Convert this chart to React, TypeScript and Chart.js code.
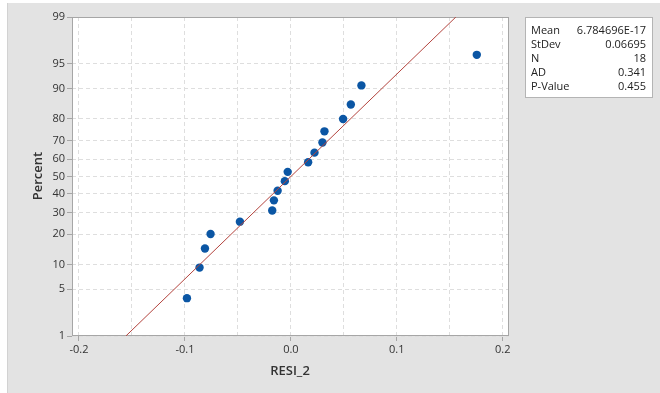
import React, { useEffect, useRef } from 'react';
import { Chart, registerables } from 'chart.js';

Chart.register(...registerables);

// Residuals (x) and their plotted percentiles (y)
const RESIDUALS = [
  -0.0981, -0.0862, -0.0811, -0.0758, -0.0481, -0.0176, -0.016, -0.0125, -0.0057,
  -0.003, 0.0163, 0.0223, 0.0298, 0.0317, 0.0493, 0.0566, 0.0666, 0.1755,
];
const PERCENTS = [
  3.8, 9.2, 14.7, 20.1, 25.5, 31.0, 36.4, 41.8, 47.3, 52.7, 58.2, 63.6, 69.0, 74.5,
  79.9, 85.3, 90.8, 96.2,
];

const Y_TICKS = [1, 5, 10, 20, 30, 40, 50, 60, 70, 80, 90, 95, 99];
const X_TICKS = [-0.2, -0.15, -0.1, -0.05, 0, 0.05, 0.1, 0.15, 0.2];
const X_LABELS = ['-0.2', '', '-0.1', '', '0.0', '', '0.1', '', '0.2'];
const X_MIN = -0.2066;
const X_MAX = 0.2059;

const MEAN = 6.784696e-17;
const STDEV = 0.06695;
const STAT_LABELS = ['Mean', 'StDev', 'N', 'AD', 'P-Value'];
const STAT_VALUES = ['6.784696E-17', '0.06695', '18', '0.341', '0.455'];

const X_TITLE = 'RESI_2';
const Y_TITLE = 'Percent';

const FONT = "'Open Sans', 'Noto Sans', sans-serif";

// inverse standard normal CDF (Acklam) – maps percent to the probability scale
function probit(p: number): number {
  const a = [-3.969683028665376e1, 2.209460984245205e2, -2.759285104469687e2, 1.38357751867269e2, -3.066479806614716e1, 2.506628277459239];
  const b = [-5.447609879822406e1, 1.615858368580409e2, -1.556989798598866e2, 6.680131188771972e1, -1.328068155288572e1];
  const c = [-7.784894002430293e-3, -3.223964580411365e-1, -2.400758277161838, -2.549732539343734, 4.374664141464968, 2.938163982698783];
  const d = [7.784695709041462e-3, 3.224671290700398e-1, 2.445134137142996, 3.754408661907416];
  const pl = 0.02425;
  let q: number, r: number;
  if (p < pl) {
    q = Math.sqrt(-2 * Math.log(p));
    return (((((c[0] * q + c[1]) * q + c[2]) * q + c[3]) * q + c[4]) * q + c[5]) /
      ((((d[0] * q + d[1]) * q + d[2]) * q + d[3]) * q + 1);
  }
  if (p <= 1 - pl) {
    q = p - 0.5;
    r = q * q;
    return (((((a[0] * r + a[1]) * r + a[2]) * r + a[3]) * r + a[4]) * r + a[5]) * q /
      (((((b[0] * r + b[1]) * r + b[2]) * r + b[3]) * r + b[4]) * r + 1);
  }
  q = Math.sqrt(-2 * Math.log(1 - p));
  return -(((((c[0] * q + c[1]) * q + c[2]) * q + c[3]) * q + c[4]) * q + c[5]) /
    ((((d[0] * q + d[1]) * q + d[2]) * q + d[3]) * q + 1);
}

const Y_MIN = probit(Y_TICKS[0] / 100);
const Y_MAX = probit(Y_TICKS[Y_TICKS.length - 1] / 100);

const decorPlugin = {
  id: 'decor',
  beforeDraw(chart: any) {
    const { ctx, width, height, chartArea } = chart;
    ctx.save();
    ctx.fillStyle = '#ffffff';
    ctx.fillRect(0, 0, width, height);
    ctx.fillStyle = '#e3e3e3';
    ctx.fillRect(7, 3, width - 7, height - 3);
    ctx.fillStyle = '#d2d2d2';
    ctx.fillRect(7, 3, 1, height - 3);
    ctx.fillStyle = '#ffffff';
    ctx.fillRect(chartArea.left, chartArea.top, chartArea.right - chartArea.left, chartArea.bottom - chartArea.top);
    ctx.restore();
  },
  beforeDatasetsDraw(chart: any) {
    const { ctx, chartArea } = chart;
    ctx.save();
    ctx.strokeStyle = '#a6a6a6';
    ctx.lineWidth = 1;
    ctx.strokeRect(chartArea.left + 0.5, chartArea.top + 0.5, chartArea.right - chartArea.left - 1, chartArea.bottom - chartArea.top - 1);
    ctx.restore();
  },
  afterDraw(chart: any) {
    const { ctx } = chart;
    ctx.save();
    // axis titles
    ctx.fillStyle = '#333333';
    ctx.font = `600 13px ${FONT}`;
    ctx.textAlign = 'center';
    ctx.textBaseline = 'middle';
    ctx.fillText(X_TITLE, 290, 371);
    ctx.translate(38, 176);
    ctx.rotate(-Math.PI / 2);
    ctx.fillText(Y_TITLE, 0, 0);
    ctx.restore();

    // stats box
    ctx.save();
    ctx.fillStyle = '#ffffff';
    ctx.fillRect(525, 17, 128, 81);
    ctx.strokeStyle = '#b4b4b4';
    ctx.lineWidth = 1;
    ctx.strokeRect(525.5, 17.5, 127, 80);
    ctx.fillStyle = '#222222';
    ctx.font = `11px ${FONT}`;
    ctx.textBaseline = 'middle';
    STAT_LABELS.forEach((lab, i) => {
      const y = 30.5 + i * 14;
      ctx.textAlign = 'left';
      ctx.fillText(lab, 531, y);
      ctx.textAlign = 'right';
      ctx.fillText(STAT_VALUES[i], 646, y);
    });
    ctx.restore();
  },
};

export default function App() {
  const ref = useRef<HTMLCanvasElement | null>(null);

  useEffect(() => {
    if (!ref.current) return;
    const zLo = probit(Y_TICKS[0] / 100);
    const zHi = probit(Y_TICKS[Y_TICKS.length - 1] / 100);
    const chart = new Chart(ref.current, {
      type: 'scatter',
      data: {
        datasets: [
          {
            type: 'line',
            data: [
              { x: MEAN + STDEV * zLo, y: zLo },
              { x: MEAN + STDEV * zHi, y: zHi },
            ],
            borderColor: '#b3443e',
            borderWidth: 1,
            pointRadius: 0,
            fill: false,
          } as any,
          {
            data: RESIDUALS.map((x, i) => ({ x, y: probit(PERCENTS[i] / 100) })),
            backgroundColor: '#0b56a4',
            borderColor: '#0b56a4',
            pointRadius: 4.2,
            pointBorderWidth: 0,
          },
        ],
      },
      options: {
        animation: false,
        responsive: false,
        maintainAspectRatio: false,
        layout: { padding: { left: 0, top: 17, right: 151, bottom: 0 } },
        plugins: { legend: { display: false }, tooltip: { enabled: false }, title: { display: false } },
        scales: {
          x: {
            type: 'linear',
            min: X_MIN,
            max: X_MAX,
            afterBuildTicks: (scale: any) => {
              scale.ticks = X_TICKS.map((v) => ({ value: v }));
            },
            afterFit: (scale: any) => {
              scale.height = 57;
            },
            ticks: {
              autoSkip: false,
              maxRotation: 0,
              padding: 2,
              color: '#333333',
              font: { family: FONT, size: 11 },
              callback: (_v: any, i: number) => X_LABELS[i],
            },
            grid: {
              color: '#dedede',
              lineWidth: 1,
              tickLength: 5,
              tickColor: (c: any) => (c.index % 2 === 0 ? '#a6a6a6' : 'rgba(0,0,0,0)'),
            },
            border: { display: false, dash: [4, 3] },
          },
          y: {
            type: 'linear',
            min: Y_MIN,
            max: Y_MAX,
            afterBuildTicks: (scale: any) => {
              scale.ticks = Y_TICKS.map((p) => ({ value: probit(p / 100) }));
            },
            afterFit: (scale: any) => {
              scale.width = 72;
            },
            ticks: {
              autoSkip: false,
              padding: 2,
              color: '#333333',
              font: { family: FONT, size: 11 },
              callback: (_v: any, i: number) => String(Y_TICKS[i]),
            },
            grid: {
              color: '#dedede',
              lineWidth: 1,
              tickLength: 5,
              tickColor: '#a6a6a6',
            },
            border: { display: false, dash: [4, 3] },
          },
        },
      },
      plugins: [decorPlugin],
    });
    return () => chart.destroy();
  }, []);

  return (
    <div style={{ position: 'fixed', left: 0, top: 0, width: 660, height: 393 }}>
      <canvas ref={ref} width={660} height={393} style={{ display: 'block', width: 660, height: 393 }} />
    </div>
  );
}
